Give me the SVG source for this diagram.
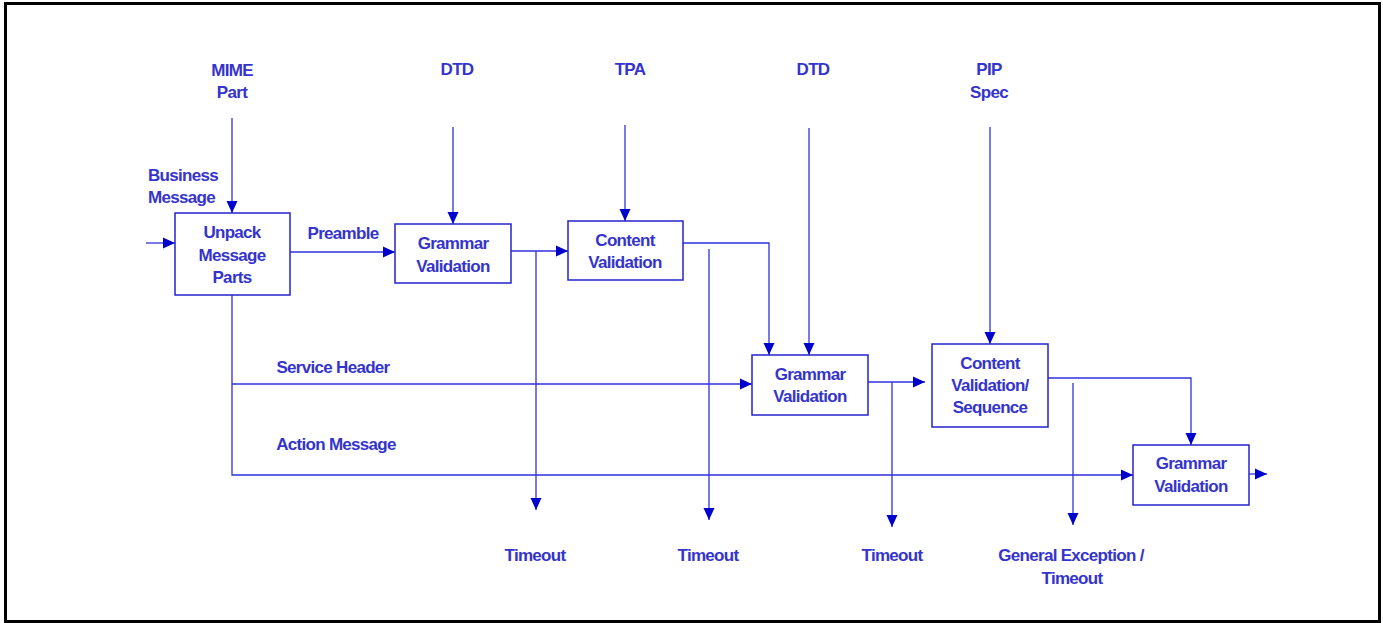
<svg xmlns="http://www.w3.org/2000/svg" width="1383" height="623" viewBox="0 0 1383 623">
<style>
.t{font-family:"Liberation Sans",Arial,sans-serif;font-weight:bold;font-size:17px;fill:#3434cc;text-anchor:middle;letter-spacing:-0.7px}
.l{text-anchor:start}
.box{fill:#fff;stroke:#2424cc;stroke-width:1.5}
.c{fill:none;stroke:#3030dd;stroke-width:1.3}
</style>
<defs>
<marker id="a" markerWidth="12" markerHeight="12" refX="12" refY="6" orient="auto" markerUnits="userSpaceOnUse">
<path d="M0,0.5 L12,6 L0,11.5 Z" fill="#0000cc"/>
</marker>
</defs>
<rect x="5.5" y="3.5" width="1374" height="618" fill="#fff" stroke="#000" stroke-width="3"/>
<g id="connectors">
<path class="c" d="M146,243 H175" marker-end="url(#a)"/>
<path class="c" d="M232,118 V213" marker-end="url(#a)"/>
<path class="c" d="M290,252 H395" marker-end="url(#a)"/>
<path class="c" d="M453,127 V224" marker-end="url(#a)"/>
<path class="c" d="M625,125 V221" marker-end="url(#a)"/>
<path class="c" d="M511,251 H568" marker-end="url(#a)"/>
<path class="c" d="M536,251 V510" marker-end="url(#a)"/>
<path class="c" d="M683,243 H769 V355" marker-end="url(#a)"/>
<path class="c" d="M709,249 V520" marker-end="url(#a)"/>
<path class="c" d="M809,128 V355" marker-end="url(#a)"/>
<path class="c" d="M232,295 V475 H1133" marker-end="url(#a)"/>
<path class="c" d="M232,384 H752" marker-end="url(#a)"/>
<path class="c" d="M868,382 H925" marker-end="url(#a)"/>
<path class="c" d="M892,382 V527" marker-end="url(#a)"/>
<path class="c" d="M990,127 V344" marker-end="url(#a)"/>
<path class="c" d="M1048,378 H1191 V445" marker-end="url(#a)"/>
<path class="c" d="M1073,383 V525" marker-end="url(#a)"/>
<path class="c" d="M1249,474 H1267" marker-end="url(#a)"/>
</g>
<g id="labels">
<text class="t" x="232" y="76">MIME</text>
<text class="t" x="232" y="98">Part</text>
<text class="t" x="457" y="75">DTD</text>
<text class="t" x="630" y="75">TPA</text>
<text class="t" x="813" y="75">DTD</text>
<text class="t" x="989" y="75">PIP</text>
<text class="t" x="989" y="98">Spec</text>
<text class="t l" x="148" y="181">Business</text>
<text class="t l" x="148" y="203">Message</text>
<text class="t" x="343" y="239">Preamble</text>
<text class="t" x="333" y="373">Service Header</text>
<text class="t" x="336" y="450">Action Message</text>
<text class="t" x="535" y="561">Timeout</text>
<text class="t" x="708" y="561">Timeout</text>
<text class="t" x="892" y="561">Timeout</text>
<text class="t" x="1071" y="561">General Exception /</text>
<text class="t" x="1072" y="584">Timeout</text>
</g>
<g id="unpack">
<rect class="box" x="175" y="213" width="115" height="82"/>
<text class="t" x="232" y="238">Unpack</text>
<text class="t" x="232" y="261">Message</text>
<text class="t" x="232" y="283">Parts</text>
</g>
<g id="grammar1">
<rect class="box" x="395" y="224" width="116" height="59"/>
<text class="t" x="453" y="249">Grammar</text>
<text class="t" x="453" y="272">Validation</text>
</g>
<g id="content1">
<rect class="box" x="568" y="221" width="115" height="59"/>
<text class="t" x="625" y="246">Content</text>
<text class="t" x="625" y="268">Validation</text>
</g>
<g id="grammar2">
<rect class="box" x="752" y="355" width="116" height="60"/>
<text class="t" x="810" y="380">Grammar</text>
<text class="t" x="810" y="402">Validation</text>
</g>
<g id="content2">
<rect class="box" x="932" y="344" width="116" height="83"/>
<text class="t" x="990" y="369">Content</text>
<text class="t" x="990" y="391">Validation/</text>
<text class="t" x="990" y="413">Sequence</text>
</g>
<g id="grammar3">
<rect class="box" x="1133" y="445" width="116" height="60"/>
<text class="t" x="1191" y="469">Grammar</text>
<text class="t" x="1191" y="492">Validation</text>
</g>
</svg>
